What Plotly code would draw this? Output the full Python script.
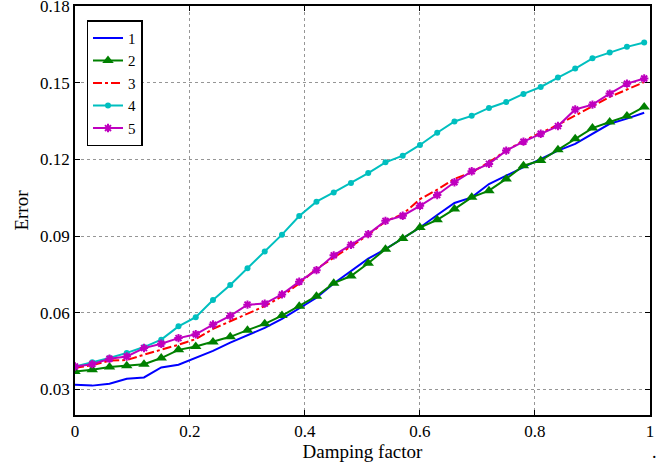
import plotly.graph_objects as go

damping = [0.00, 0.03, 0.06, 0.09, 0.12, 0.15, 0.18, 0.21, 0.24, 0.27, 0.30, 0.33,
           0.36, 0.39, 0.42, 0.45, 0.48, 0.51, 0.54, 0.57, 0.60, 0.63, 0.66, 0.69,
           0.72, 0.75, 0.78, 0.81, 0.84, 0.87, 0.90, 0.93, 0.96, 0.99]

err1 = [0.0318, 0.0315, 0.0322, 0.0342, 0.0347, 0.0386, 0.0397, 0.0424, 0.0451, 0.0483,
        0.0512, 0.0541, 0.0576, 0.0616, 0.0659, 0.0715, 0.0763, 0.0812, 0.0849, 0.0891,
        0.0934, 0.0983, 0.1030, 0.1052, 0.1104, 0.1137, 0.1170, 0.1202, 0.1235, 0.1261,
        0.1301, 0.1340, 0.1360, 0.1383]
err2 = [0.0370, 0.0377, 0.0388, 0.0393, 0.0399, 0.0423, 0.0455, 0.0468, 0.0486, 0.0506,
        0.0532, 0.0557, 0.0589, 0.0626, 0.0665, 0.0716, 0.0744, 0.0794, 0.0849, 0.0891,
        0.0934, 0.0964, 0.1006, 0.1052, 0.1078, 0.1124, 0.1176, 0.1196, 0.1238, 0.1281,
        0.1323, 0.1347, 0.1370, 0.1406]
err3 = [0.0385, 0.0395, 0.0413, 0.0415, 0.0436, 0.0455, 0.0475, 0.0497, 0.0537, 0.0567,
        0.0597, 0.0626, 0.0665, 0.0715, 0.0772, 0.0815, 0.0860, 0.0905, 0.0958, 0.0986,
        0.1045, 0.1082, 0.1124, 0.1150, 0.1189, 0.1235, 0.1274, 0.1304, 0.1336, 0.1372,
        0.1410, 0.1445, 0.1474, 0.1503]
err4 = [0.0390, 0.0406, 0.0423, 0.0443, 0.0466, 0.0495, 0.0547, 0.0583, 0.0650, 0.0709,
        0.0774, 0.0840, 0.0906, 0.0979, 0.1035, 0.1071, 0.1108, 0.1147, 0.1189, 0.1215,
        0.1257, 0.1305, 0.1349, 0.1371, 0.1402, 0.1425, 0.1457, 0.1484, 0.1521, 0.1556,
        0.1596, 0.1619, 0.1641, 0.1658]
err5 = [0.0390, 0.0399, 0.0420, 0.0429, 0.0462, 0.0479, 0.0501, 0.0516, 0.0554, 0.0588,
        0.0632, 0.0636, 0.0672, 0.0722, 0.0767, 0.0825, 0.0866, 0.0908, 0.0960, 0.0980,
        0.1019, 0.1061, 0.1111, 0.1154, 0.1183, 0.1235, 0.1270, 0.1301, 0.1331, 0.1396,
        0.1415, 0.1458, 0.1497, 0.1517]

x_ticks = [0, 0.2, 0.4, 0.6, 0.8, 1]
x_tick_labels = ["0", "0.2", "0.4", "0.6", "0.8", "1"]
y_ticks = [0.03, 0.06, 0.09, 0.12, 0.15, 0.18]
y_tick_labels = ["0.03", "0.06", "0.09", "0.12", "0.15", "0.18"]

FONT = "Liberation Serif, Times New Roman, serif"

fig = go.Figure()
fig.add_trace(go.Scatter(x=damping, y=err1, name="1", mode="lines",
                         line=dict(color="rgb(0,0,255)", width=2)))
fig.add_trace(go.Scatter(x=damping, y=err2, name="2", mode="lines+markers",
                         line=dict(color="rgb(0,128,0)", width=2),
                         marker=dict(symbol="triangle-up", size=10, color="rgb(0,128,0)")))
fig.add_trace(go.Scatter(x=damping, y=err3, name="3", mode="lines",
                         line=dict(color="rgb(255,0,0)", width=2, dash="dashdot")))
fig.add_trace(go.Scatter(x=damping, y=err4, name="4", mode="lines+markers",
                         line=dict(color="rgb(0,191,191)", width=2),
                         marker=dict(symbol="circle", size=6, color="rgb(0,191,191)")))
fig.add_trace(go.Scatter(x=damping, y=err5, name="5", mode="lines+markers",
                         line=dict(color="rgb(191,0,191)", width=2),
                         marker=dict(symbol="asterisk-open", size=7,
                                     line=dict(color="rgb(191,0,191)", width=2))))

axis_common = dict(showline=True, linecolor="black", linewidth=1.5, mirror="ticks",
                   ticks="inside", ticklen=5, tickcolor="black",
                   showgrid=True, gridcolor="rgb(150,150,150)", griddash="dot", gridwidth=1,
                   zeroline=False, ticklabeloverflow="allow", automargin=False,
                   tickfont=dict(family=FONT, size=17, color="black"))

fig.update_xaxes(range=[0, 1.0001], tickvals=x_ticks, ticktext=x_tick_labels,
                 title=dict(text="Damping factor", font=dict(family=FONT, size=19, color="black"),
                            standoff=2),
                 **axis_common)
fig.update_yaxes(range=[0.02, 0.1801], tickvals=y_ticks, ticktext=y_tick_labels,
                 title=dict(text="Error", font=dict(family=FONT, size=19, color="black"),
                            standoff=6),
                 **axis_common)

fig.add_annotation(text=".", xref="paper", yref="paper", x=1.0, y=-0.09,
                   xanchor="left", yanchor="middle", showarrow=False,
                   font=dict(family=FONT, size=18, color="black"))

fig.update_layout(
    width=658, height=463,
    margin=dict(l=75, r=8, t=6, b=48),
    paper_bgcolor="white", plot_bgcolor="white",
    font=dict(family=FONT, color="black"),
    legend=dict(x=0.02, y=0.965, xanchor="left", yanchor="top",
                bgcolor="white", bordercolor="black", borderwidth=1.5,
                font=dict(family=FONT, size=15, color="black"),
                tracegroupgap=0, itemwidth=30),
    showlegend=True,
)

fig.write_html("out.html", config={"displayModeBar": False},
               post_script="document.body.style.margin='0';document.body.style.overflow='hidden';")
